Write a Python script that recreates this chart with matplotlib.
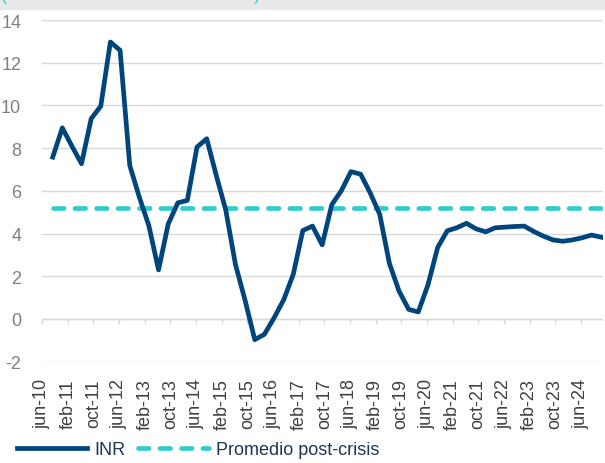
import numpy as np
import pandas as pd
import matplotlib
matplotlib.use("Agg")
import matplotlib.pyplot as plt
from matplotlib.patches import Rectangle

plt.rcParams['font.family'] = ['Liberation Sans', 'DejaVu Sans']
plt.rcParams['axes.unicode_minus'] = False

# Data (quarterly)
inr = [7.58, 8.95, 8.10, 7.27, 9.38, 9.97, 12.97, 12.58, 7.19, 5.70,
       4.37, 2.30, 4.45, 5.44, 5.55, 8.05, 8.44, 6.72, 5.10, 2.55,
       0.86, -0.97, -0.72, 0.05, 0.90, 2.10, 4.14, 4.35, 3.47, 5.35,
       6.00, 6.90, 6.78, 5.90, 4.90, 2.60, 1.30, 0.45, 0.33, 1.60,
       3.35, 4.13, 4.27, 4.48, 4.22, 4.08, 4.27, 4.30, 4.33, 4.35,
       4.10, 3.88, 3.70, 3.64, 3.70, 3.80, 3.93, 3.83]
promedio = 5.2
fechas = pd.date_range('2010-09-01', periods=len(inr), freq='3MS') + pd.Timedelta(days=10)

xticks = pd.date_range('2010-06-01', '2024-06-01', freq='8MS')
xlabels = ['jun-10', 'feb-11', 'oct-11', 'jun-12', 'feb-13', 'oct-13', 'jun-14',
           'feb-15', 'oct-15', 'jun-16', 'feb-17', 'oct-17', 'jun-18', 'feb-19',
           'oct-19', 'jun-20', 'feb-21', 'oct-21', 'jun-22', 'feb-23', 'oct-23',
           'jun-24']
yticks = [-2, 0, 2, 4, 6, 8, 10, 12, 14]

navy = '#00457C'
teal = '#33CCCC'

fig = plt.figure(figsize=(6.05, 4.64), dpi=100)
ax = fig.add_axes([42/605, (464-362.7)/464, (603-42)/605, (362.7-21)/464])

# cropped header band at the very top
fig.patches.append(Rectangle((0, 1-10/464), 1, 10/464, transform=fig.transFigure,
                             color='#e8e8e8', zorder=0))
fig.text(0.002, 1-4/464, '(', color=teal, fontsize=13, va='bottom')
fig.text(0.42, 1-4/464, ')', color=teal, fontsize=13, va='bottom')

ax.plot(fechas, inr, color=navy, lw=3.4, solid_joinstyle='round', label='INR', zorder=3)
ax.plot(fechas, np.full(len(inr), promedio), color=teal, lw=3.4, dashes=(2.25, 2.3),
        dash_capstyle='round', label='Promedio post-crisis', zorder=2)

ax.set_ylim(-2, 14)
ax.set_yticks(yticks)
ax.set_xlim(pd.Timestamp('2010-06-01'), pd.Timestamp('2024-12-28'))
ax.set_xticks(xticks)
ax.set_xticklabels(xlabels, rotation=90, fontsize=13, color='#404040')
ax.tick_params(axis='x', length=0, pad=12)
ax.tick_params(axis='y', length=0, pad=15, labelsize=13, labelcolor='#808080')
ax.grid(axis='y', color='#d9d9d9', lw=1.0)
ax.set_axisbelow(True)
for s in ax.spines.values():
    s.set_visible(False)

# tick marks hanging from the zero line
ax.vlines(xticks, -0.24, 0, color='#d9d9d9', lw=1.0, clip_on=False)
ax.axhline(0, color='#d9d9d9', lw=1.0, zorder=1)

fig.legend(loc='center left', bbox_to_anchor=(17/605, 1-451/464), ncol=2, frameon=False,
           fontsize=13, labelcolor='#1F3558', handlelength=3.9, handletextpad=0.4,
           columnspacing=0.7, borderpad=0, borderaxespad=0)

fig.savefig('out.png', dpi=100)
